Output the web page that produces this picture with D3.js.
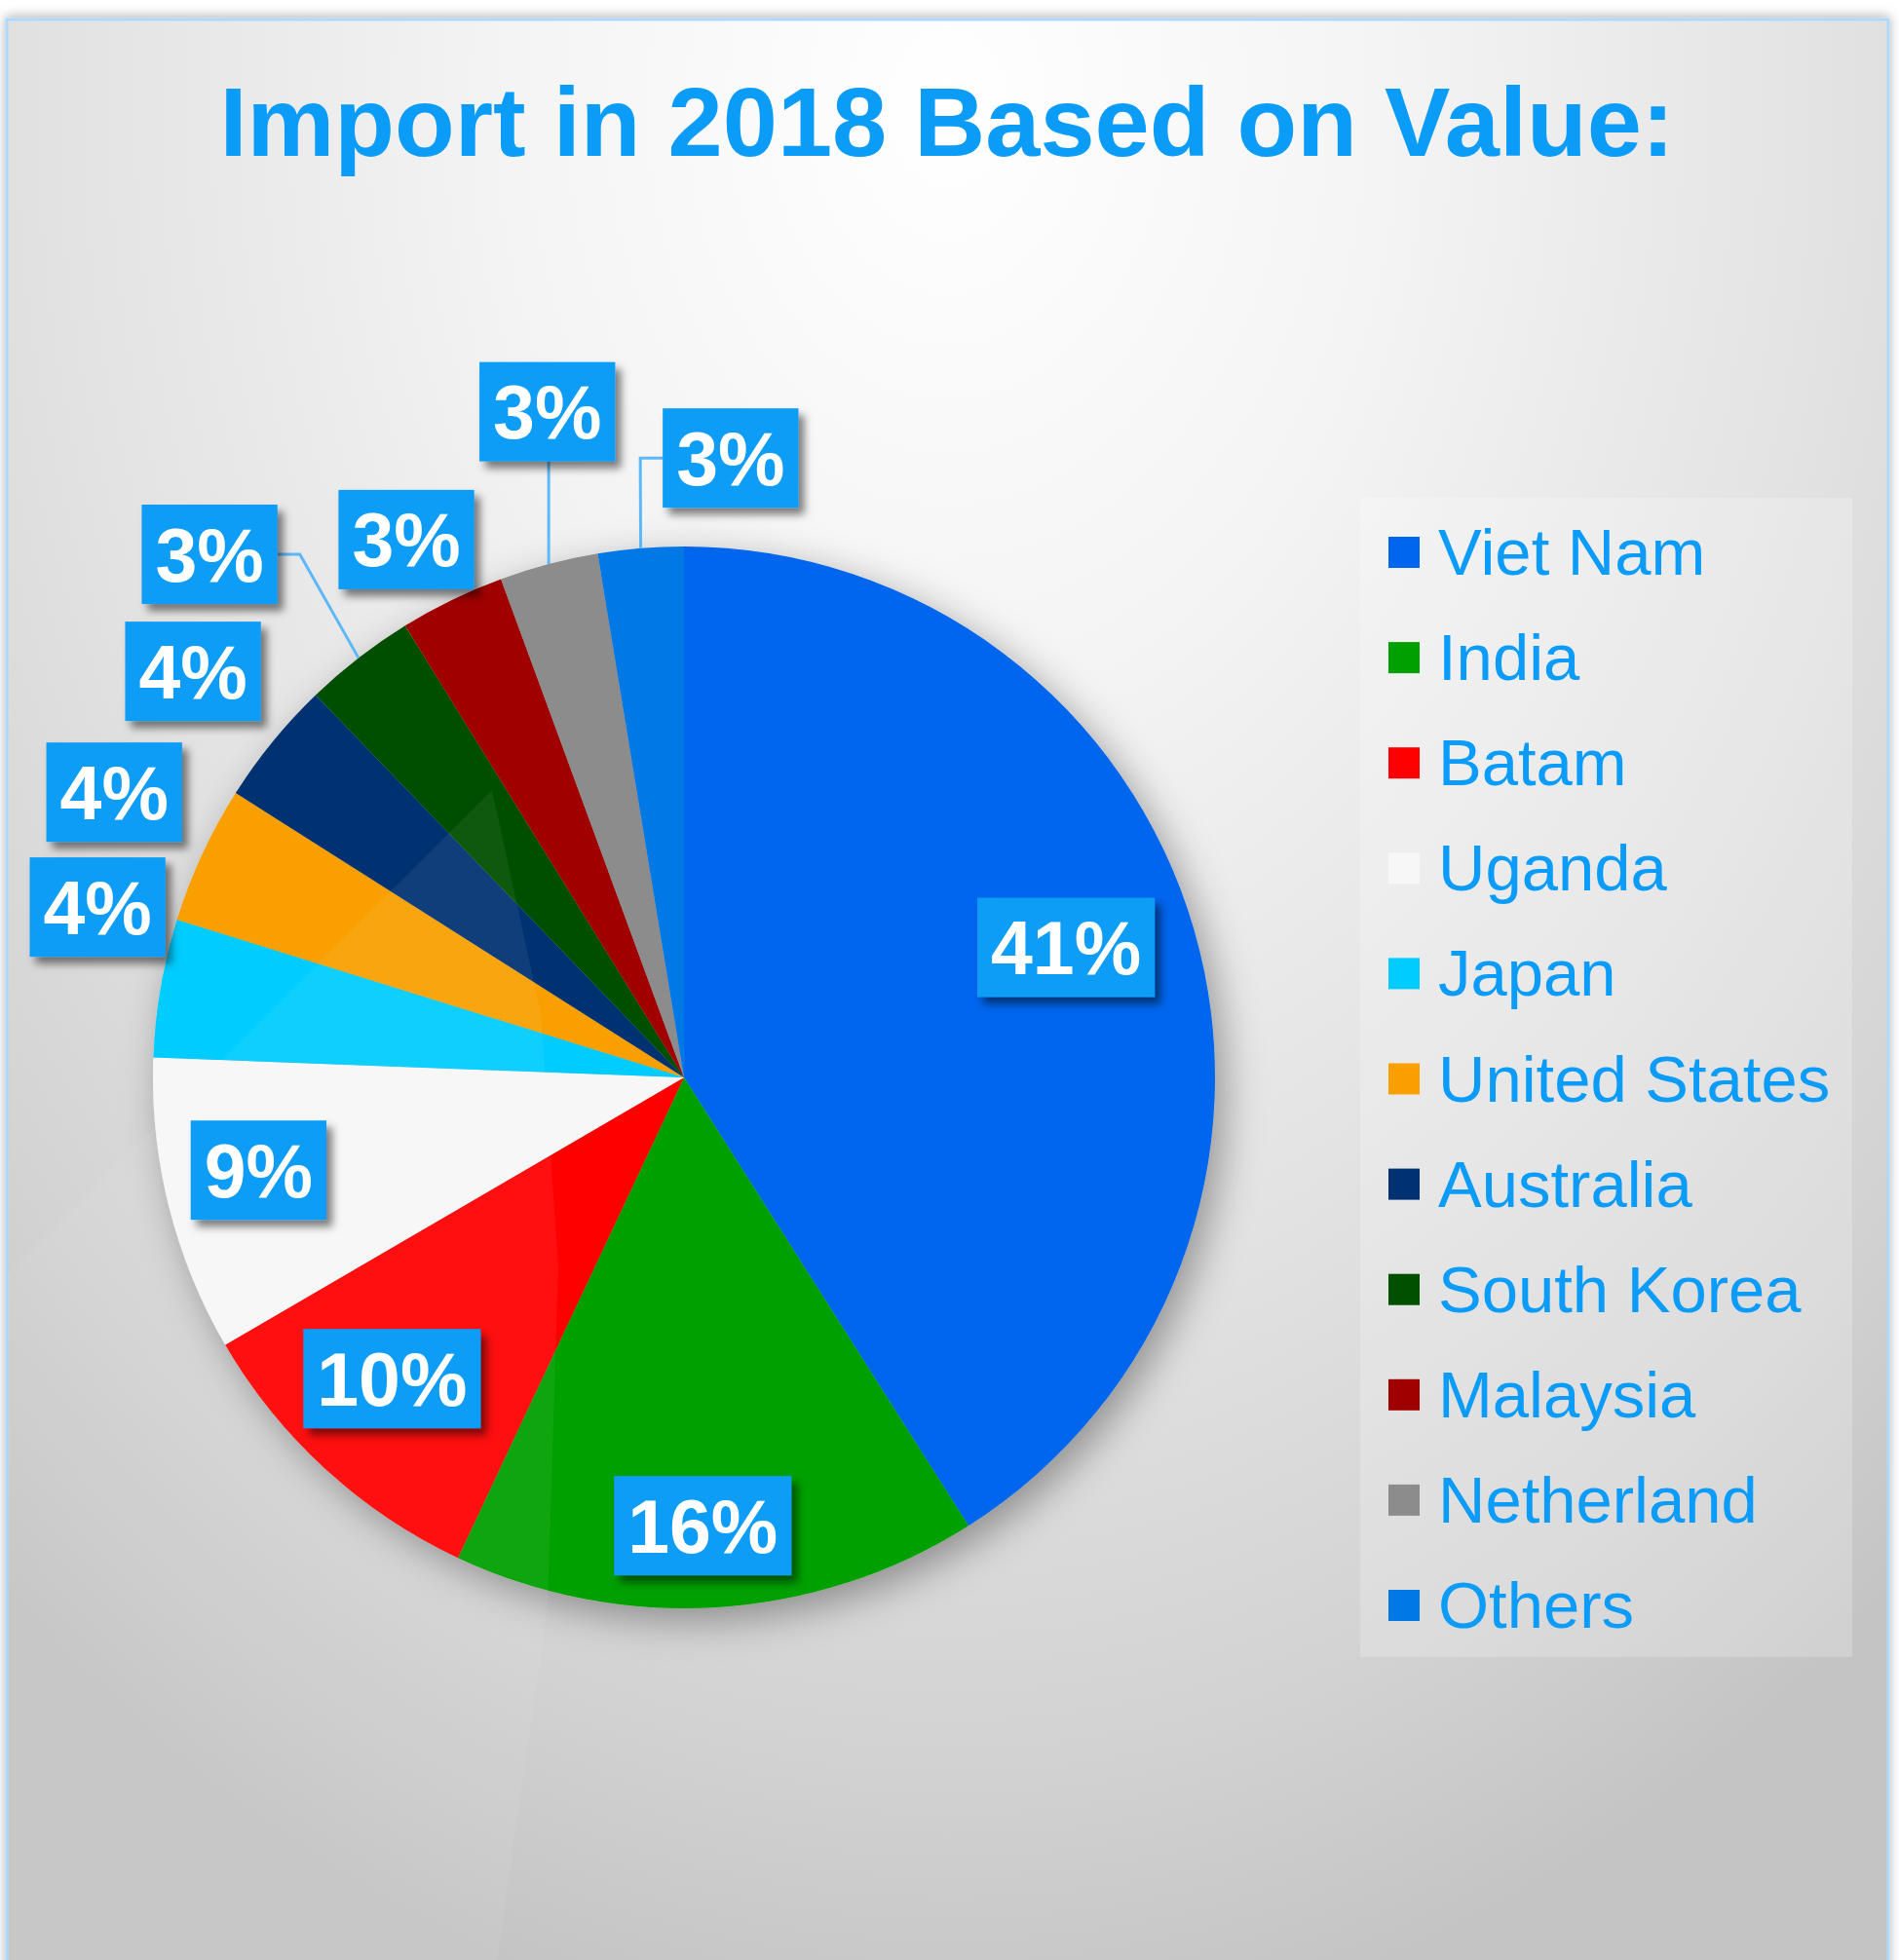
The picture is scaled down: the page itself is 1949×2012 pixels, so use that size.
<!DOCTYPE html>
<meta charset="utf-8">
<style>
body { margin: 0; background: #fff; }
svg { display: block; font-family: "Liberation Sans", Arial, sans-serif; }
.title { fill: #0b9cf8; font-size: 101px; font-weight: bold; text-anchor: middle; }
.legend-text { fill: #0a9cf8; font-size: 67px; }
.pct { fill: #fff; font-size: 77px; font-weight: bold; text-anchor: middle; }
</style>
<svg width="1949" height="2012"></svg>
<script src="https://d3js.org/d3.v7.min.js"></script>
<script>
var countries = ["Viet Nam", "India", "Batam", "Uganda", "Japan", "United States",
                 "Australia", "South Korea", "Malaysia", "Netherland", "Others"];
var shares = [41.0, 16.0, 9.6, 9.0, 4.2, 4.2, 3.8, 3.4, 3.2, 3.0, 2.6];
var sliceColors = ["#0066ee", "#00a000", "#ff0000", "#f7f7f7", "#00ccff", "#f9a000",
                   "#003272", "#005000", "#a00000", "#8c8c8c", "#0078e6"];
// where each percentage box sits: [fraction of radius, degrees clockwise from 12 o'clock]
var labelSpots = [[0.76, 71.2], [0.845, 177.6], [0.79, 224.1], [0.82, 257.7], [1.15, 286.2],
                  [1.2, 296.6], [1.2, 309.6], [1.33, 317.8], [1.14, 332.7], [1.28, 348.4], [1.17, 4.3]];

var svg = d3.select("svg"),
    width = +svg.attr("width"),
    height = +svg.attr("height");

var cx = 702, cy = 1106, radius = 545;
var total = d3.sum(shares);

var defs = svg.append("defs");

var bg = defs.append("radialGradient")
    .attr("id", "bg")
    .attr("gradientUnits", "userSpaceOnUse")
    .attr("cx", 972).attr("cy", 110).attr("r", 2000)
    .attr("gradientTransform", "translate(972,110) scale(0.75,1) translate(-972,-110)");
[[0, "#ffffff"], [0.3, "#f4f4f4"], [0.6, "#e3e3e3"], [0.85, "#d2d2d2"], [1, "#c4c4c4"]]
  .forEach(s => bg.append("stop").attr("offset", s[0]).attr("stop-color", s[1]));

function shadow(id, dx, dy, sd, op) {
  defs.append("filter")
      .attr("id", id)
      .attr("x", "-30%").attr("y", "-30%").attr("width", "160%").attr("height", "160%")
    .append("feDropShadow")
      .attr("dx", dx).attr("dy", dy)
      .attr("stdDeviation", sd)
      .attr("flood-color", "#000")
      .attr("flood-opacity", op);
}
shadow("frameShadow", 0, -2, 6, 0.3);
shadow("pieShadow", 10, 12, 20, 0.35);
shadow("boxShadow", 6, 7, 4, 0.5);

// chart area
svg.append("rect")
    .attr("x", 7).attr("y", 20)
    .attr("width", 1931).attr("height", height)
    .attr("fill", "url(#bg)")
    .attr("stroke", "#aed9fb")
    .attr("stroke-width", 3)
    .attr("filter", "url(#frameShadow)");

svg.append("text")
    .attr("class", "title")
    .attr("x", 972)
    .attr("y", 160)
    .text("Import in 2018 Based on Value:");

// pie
var pie = d3.pie().sort(null).value(d => d);
var arcs = pie(shares);
var arc = d3.arc().innerRadius(0).outerRadius(radius);

svg.append("g")
    .attr("transform", "translate(" + cx + "," + cy + ")")
    .attr("filter", "url(#pieShadow)")
  .selectAll("path")
  .data(arcs)
  .enter().append("path")
    .attr("d", arc)
    .attr("fill", (d, i) => sliceColors[i]);

// faint glass reflection across the lower left
var glare = [[505, 811], [8, 1308], [8, height], [510, height], [562, 1650], [573, 1300], [555, 1040], [505, 811]];
svg.append("path")
    .attr("d", d3.line()(glare))
    .attr("fill", "#ffffff")
    .attr("opacity", 0.06);

// percentage labels
function polar(r, deg) {
  var a = deg * Math.PI / 180;
  return [cx + r * Math.sin(a), cy - r * Math.cos(a)];
}

var labels = svg.append("g").attr("id", "labels");

arcs.forEach(function(d, i) {
  var pos = polar(labelSpots[i][0] * radius, labelSpots[i][1]);
  var g = labels.append("g");
  var box = g.append("rect").attr("fill", "#0e9cf6").attr("filter", "url(#boxShadow)");
  var t = g.append("text")
      .attr("class", "pct")
      .attr("x", pos[0])
      .attr("y", pos[1] + 27.5)
      .text(Math.round(d.value / total * 100) + "%");
  var w = t.node().getComputedTextLength() + 28, h = 102;
  var b = {x0: pos[0] - w / 2, x1: pos[0] + w / 2, y0: pos[1] - h / 2, y1: pos[1] + h / 2};
  box.attr("x", b.x0).attr("y", b.y0).attr("width", w).attr("height", h);

  if (labelSpots[i][0] <= 1) return; // inside labels need no leader
  var mid = (d.startAngle + d.endAngle) / 2 * 180 / Math.PI;
  var pts = leader(b, polar(radius, mid));
  if (pts) {
    labels.insert("path", ":first-child")
        .attr("d", d3.line()(pts))
        .attr("fill", "none")
        .attr("stroke", "#5cb8f8")
        .attr("stroke-width", 3);
  }
});

// leader line only when the box sits away from its slice
function leader(b, edge) {
  var nx = Math.max(b.x0, Math.min(edge[0], b.x1)),
      ny = Math.max(b.y0, Math.min(edge[1], b.y1));
  if (Math.hypot(edge[0] - nx, edge[1] - ny) < 40) return null;
  if (edge[0] >= b.x0 && edge[0] <= b.x1) {
    return [[edge[0], edge[1] > b.y1 ? b.y1 : b.y0], edge];
  }
  var right = edge[0] > b.x1,
      side = right ? b.x1 : b.x0,
      my = (b.y0 + b.y1) / 2;
  return [[side, my], [side + (right ? 23 : -23), my], edge];
}

// legend
var legend = svg.append("g").attr("id", "legend");
legend.append("rect")
    .attr("x", 1396).attr("y", 511)
    .attr("width", 505).attr("height", 1190)
    .attr("fill", "#ffffff")
    .attr("opacity", 0.22);

var rowY = d3.scalePoint().domain(countries).range([567, 1648]);

var items = legend.selectAll("g")
    .data(countries)
    .enter().append("g")
      .attr("transform", c => "translate(1425," + rowY(c) + ")");
items.append("rect")
    .attr("y", -16)
    .attr("width", 32)
    .attr("height", 32)
    .attr("fill", (c, i) => sliceColors[i]);
items.append("text")
    .attr("class", "legend-text")
    .attr("x", 51)
    .attr("y", 23)
    .text(c => c);
</script>
